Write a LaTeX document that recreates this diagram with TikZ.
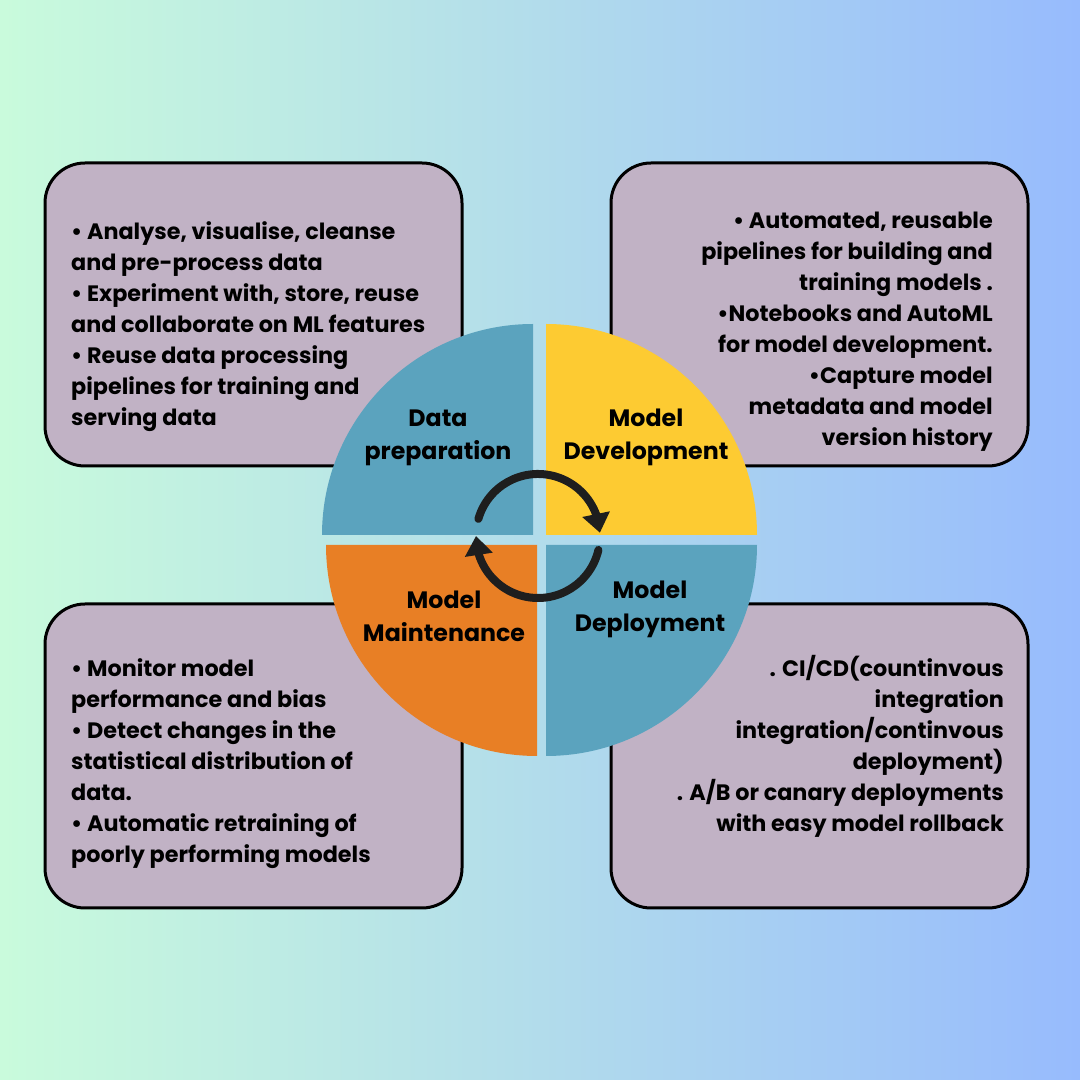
\documentclass[tikz,border=0pt]{standalone}
\usepackage{fontspec}
\setmainfont{Poppins}
\usetikzlibrary{arrows.meta,calc,bending}
\definecolor{bgL}{HTML}{C9FBDC}
\definecolor{bgM}{HTML}{B2DCEB}
\definecolor{bgR}{HTML}{97BBFD}
\definecolor{boxfill}{HTML}{C1B2C5}
\definecolor{qblue}{HTML}{5BA3BE}
\definecolor{qyellow}{HTML}{FDCB32}
\definecolor{qorange}{HTML}{E87F25}
\definecolor{ink}{HTML}{1E1E1E}
\begin{document}
\begin{tikzpicture}[x=1pt,y=1pt,
  infobox/.style={draw=black,line width=3pt,fill=boxfill,rounded corners=40pt},
  boxtext/.style={font=\fontsize{22.3}{31}\selectfont\bfseries,inner sep=0pt},
  qlabel/.style={font=\fontsize{23.7}{33}\selectfont\bfseries,align=center,inner sep=0pt},
  cyc/.style={draw=ink,line width=8pt,line cap=round},
  cyctip/.style={-{Triangle[length=19pt,width=27pt]}}
]
\useasboundingbox (0,0) rectangle (1080,1080);
\shade[left color=bgL,right color=bgR,middle color=bgM] (0,0) rectangle (1080,1080);

% info boxes
\draw[infobox] (45,614) rectangle (462,917);
\draw[infobox] (611,614) rectangle (1028,917);
\draw[infobox] (45,172) rectangle (462,476);
\draw[infobox] (611,172) rectangle (1028,476);

% box texts
\node[boxtext,anchor=west,align=left] (tltext) at (71,753)
  {• Analyse, visualise, cleanse\\and pre-process data\\• Experiment with, store, reuse\\and collaborate on ML features\\• Reuse data processing\\pipelines for training and\\serving data};
\node[boxtext,anchor=east,align=right] (trtext) at (993,748.5)
  {• Automated, reusable\\pipelines for building and\\training models .\hspace*{4pt}\\•Notebooks and AutoML\\for model development.\\•Capture model\\metadata and model\\version history};
\node[boxtext,anchor=west,align=left] (bltext) at (71,316)
  {• Monitor model\\performance and bias\\• Detect changes in the\\statistical distribution of\\data.\\• Automatic retraining of\\poorly performing models};
\node[boxtext,anchor=east,align=right] (brtext) at (1004,333.5)
  {. CI/CD(countinvous\\integration\\integration/continvous\\deployment)\\. A/B or canary deployments\\with easy model rollback};

% quadrants
\fill[qblue] (533,545) -- ++(-211,0) arc[start angle=180,end angle=90,radius=211] -- cycle;
\fill[qyellow] (546,545) -- ++(0,211) arc[start angle=90,end angle=0,radius=211] -- cycle;
\fill[qorange] (537,535) -- ++(-211,0) arc[start angle=180,end angle=270,radius=211] -- cycle;
\fill[qblue] (546,535) -- ++(211,0) arc[start angle=0,end angle=-90,radius=211] -- cycle;

% quadrant labels
\node[qlabel] (dataprep) at (438,642) {Data\\preparation};
\node[qlabel] (modeldev) at (646,643) {Model\\Development};
\node[qlabel] (modelmaint) at (444,464) {Model\\Maintenance};
\node[qlabel] (modeldep) at (650,471) {Model\\Deployment};

% cycle arrows
\coordinate (hub) at (538,544);
\draw[cyc,cyctip] ($(hub)+(164:62)$) arc[start angle=164,end angle=3,radius=62];
\draw[cyc,cyctip] ($(hub)+(-13:62)$) arc[start angle=-13,end angle=-180,radius=62];
\end{tikzpicture}
\end{document}
